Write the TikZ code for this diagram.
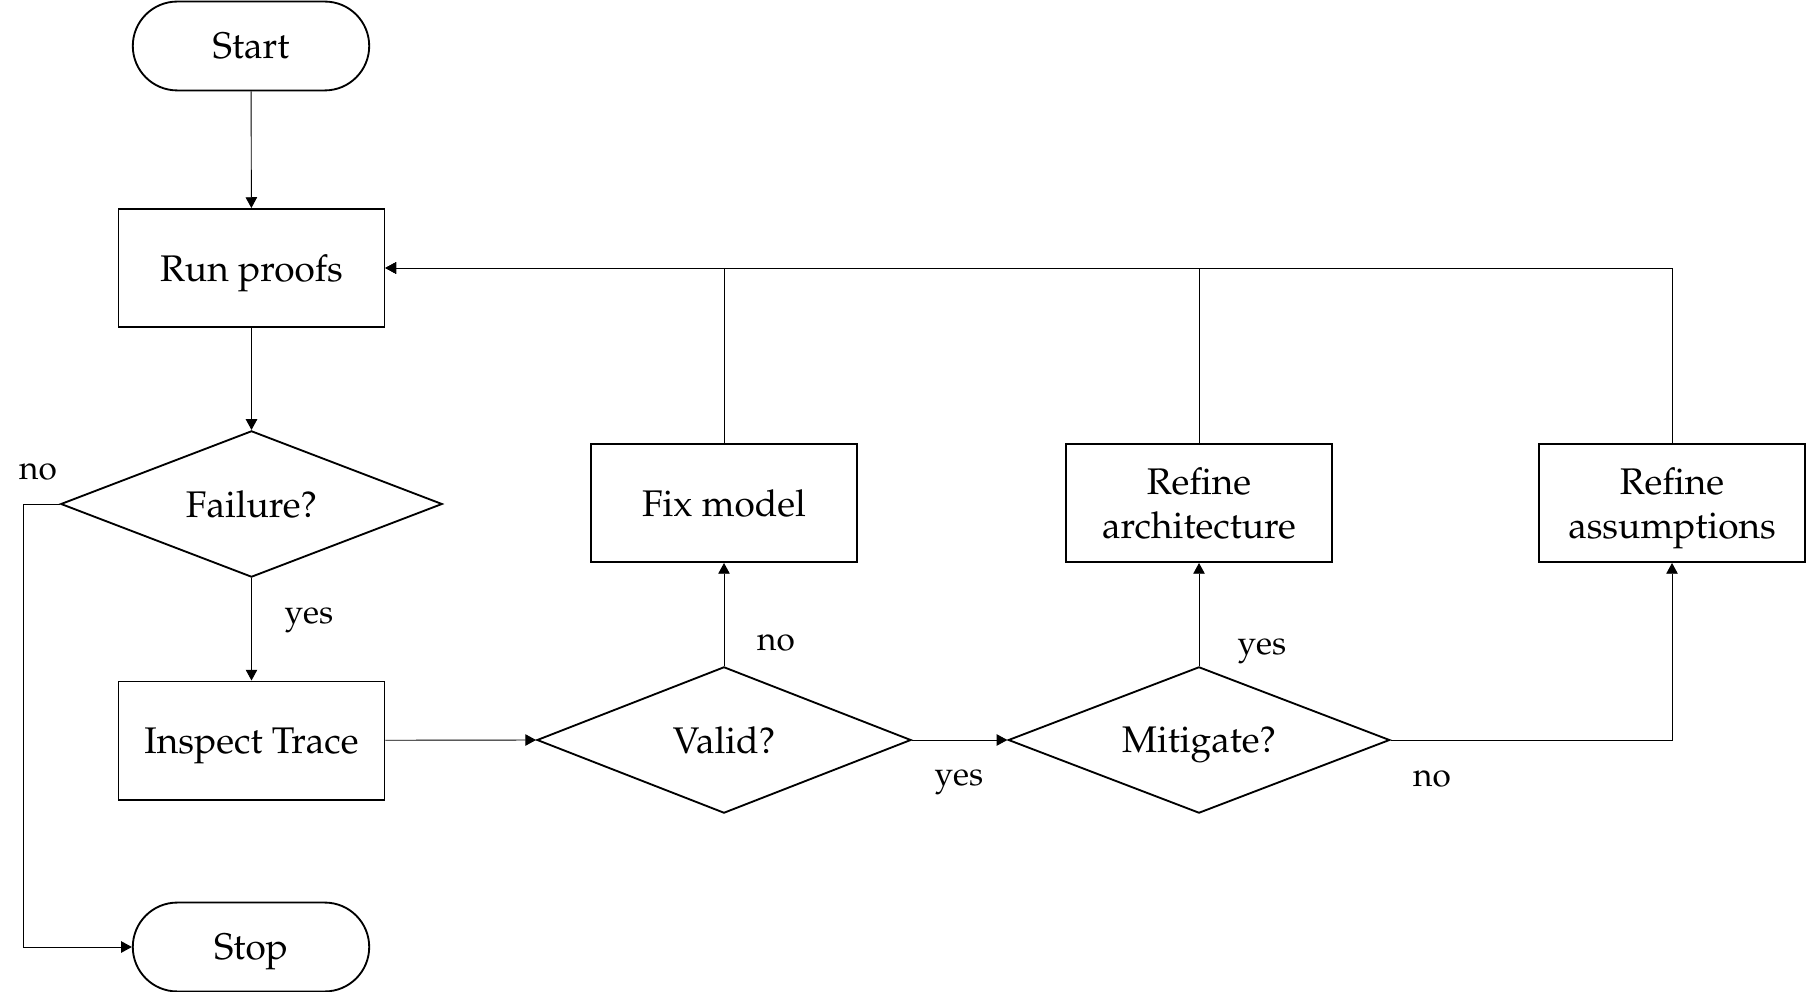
\documentclass[tikz,border=0pt]{standalone}
\usepackage[T1]{fontenc}
\usepackage{mathpazo}
\usetikzlibrary{shapes.geometric,shapes.misc,arrows.meta}
\begin{document}
\begin{tikzpicture}[x=0.27pt, y=-0.27pt,
    terminal/.style={draw, line width=0.5pt, rounded rectangle, minimum width=70.5pt, minimum height=24pt, text depth=0pt},
    process/.style={draw, line width=0.5pt, rectangle, minimum width=71.8pt, minimum height=31.9pt, align=center, text depth=0pt},
    decision/.style={draw, line width=0.5pt, diamond, aspect=2.6, minimum width=103pt, minimum height=39.5pt, inner sep=0pt, text depth=0pt},
    flow/.style={line width=0.25pt, -{Triangle[length=2.9pt, width=3.1pt]}},
    answer/.style={font=\small}]
    \useasboundingbox (0,0) rectangle (1807,992);

    % Main column
    \node[terminal] (start) at (251,46) {Start};
    \node[process] (run) at (251.5,268) {Run proofs};
    \node[decision] (failure) at (251.5,504) {Failure?};
    \node[process] (inspect) at (251.5,740.5) {Inspect Trace};
    \node[terminal] (stop) at (251,947) {Stop};

    % Decisions on the trace
    \node[decision, minimum width=101pt] (valid) at (724,740) {Valid?};
    \node[decision] (mitigate) at (1199,740) {Mitigate?};

    % Fixes
    \node[process] (fix) at (724,503) {Fix model};
    \node[process] (arch) at (1199,503) {Refine\\architecture};
    \node[process] (assum) at (1672,503) {Refine\\assumptions};

    % Connectors
    \draw[flow] (start) -- (run);
    \draw[flow] (run) -- (failure);
    \draw[flow] (failure) -- (inspect);
    \draw[flow] (failure.west) -- ++(-36.5,0) |- (stop.west);
    \draw[flow] (inspect) -- (valid.west);
    \draw[flow] (valid.east) -- (mitigate.west);
    \draw[flow] (valid.north) -- (fix.south);
    \draw[flow] (mitigate.north) -- (arch.south);
    \draw[flow] (mitigate.east) -| (assum.south);

    % Back to the proofs
    \draw[flow] (fix.north) |- (run.east);
    \draw[flow] (arch.north) |- (run.east);
    \draw[flow] (assum.north) |- (run.east);

    % Answers
    \node[answer] (failno) at (38,472) {no};
    \node[answer] (failyes) at (309,620) {yes};
    \node[answer] (validno) at (776,643) {no};
    \node[answer] (validyes) at (959,782) {yes};
    \node[answer] (mityes) at (1262,651) {yes};
    \node[answer] (mitno) at (1432,779) {no};
\end{tikzpicture}
\end{document}
